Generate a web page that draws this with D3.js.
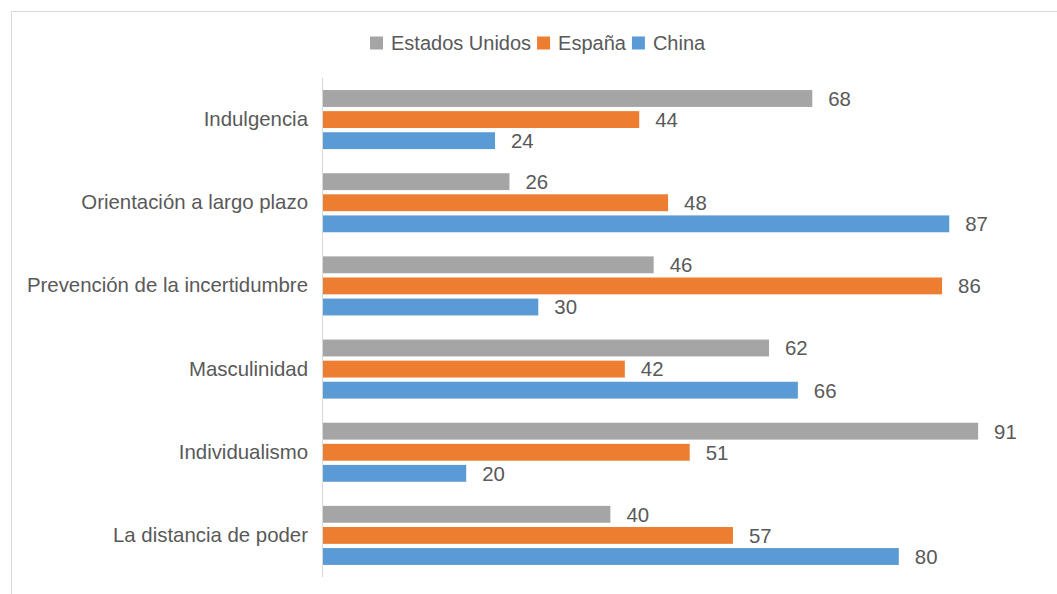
<!DOCTYPE html>
<html><head><meta charset="utf-8">
<script src="https://cdn.jsdelivr.net/npm/d3@7"></script>
<style>body{margin:0;background:#fff}svg{display:block}text{font-family:"Liberation Sans",Arial,sans-serif}</style>
</head><body>
<svg id="c" width="1057" height="594"></svg>
<script>
const categories = ["Indulgencia","Orientación a largo plazo","Prevención de la incertidumbre","Masculinidad","Individualismo","La distancia de poder"];
const series = ["Estados Unidos","España","China"];
const estadosUnidos = [68,26,46,62,91,40];
const espana = [44,48,86,42,51,57];
const china = [24,87,30,66,20,80];
const values = [estadosUnidos, espana, china];
const colors = ["#A5A5A5","#ED7D31","#5B9BD5"];

const svg = d3.select("#c");
svg.append("rect").attr("x",11.5).attr("y",11.5).attr("width",1100).attr("height",700)
  .attr("fill","none").attr("stroke","#D9D9D9").attr("stroke-width",1);

const x = d3.scaleLinear().domain([0,100]).range([322,1043]);
const y = d3.scaleBand().domain(categories).range([78,577]).paddingInner(0.29).paddingOuter(0.145);
const ys = d3.scaleBand().domain(series).range([0,y.bandwidth()]).paddingInner(0.2);

const g = svg.append("g");
categories.forEach((c,i)=>{
  series.forEach((s,j)=>{
    const v = values[j][i];
    g.append("rect").attr("x",x(0)).attr("y",y(c)+ys(s)).attr("width",x(v)-x(0)).attr("height",ys.bandwidth()).attr("fill",colors[j]);
    g.append("text").attr("x",x(v)+16).attr("y",y(c)+ys(s)+ys.bandwidth()/2).attr("dy","0.36em")
      .attr("font-size",20.4).attr("fill","#595959").text(v);
  });
});

const yAxis = d3.axisLeft(y).tickSize(0).tickPadding(14);
const ag = svg.append("g").attr("transform",`translate(${x(0)},0)`).call(yAxis);
ag.select(".domain").attr("stroke","#D9D9D9").attr("d",`M0.5,78V577`);
ag.selectAll("text").attr("font-size",20.4).attr("fill","#595959").attr("font-family","Liberation Sans, Arial, sans-serif");

// legend
const lg = svg.append("g");
let lx = 370;
series.forEach((s,j)=>{
  lg.append("rect").attr("x",lx).attr("y",36.5).attr("width",13).attr("height",13).attr("fill",colors[j]);
  const t = lg.append("text").attr("x",lx+21).attr("y",42.5).attr("dy","0.36em").attr("font-size",20).attr("fill","#595959").text(s);
  lx = lx + 21 + t.node().getComputedTextLength() + 6;
});
</script>
</body></html>
